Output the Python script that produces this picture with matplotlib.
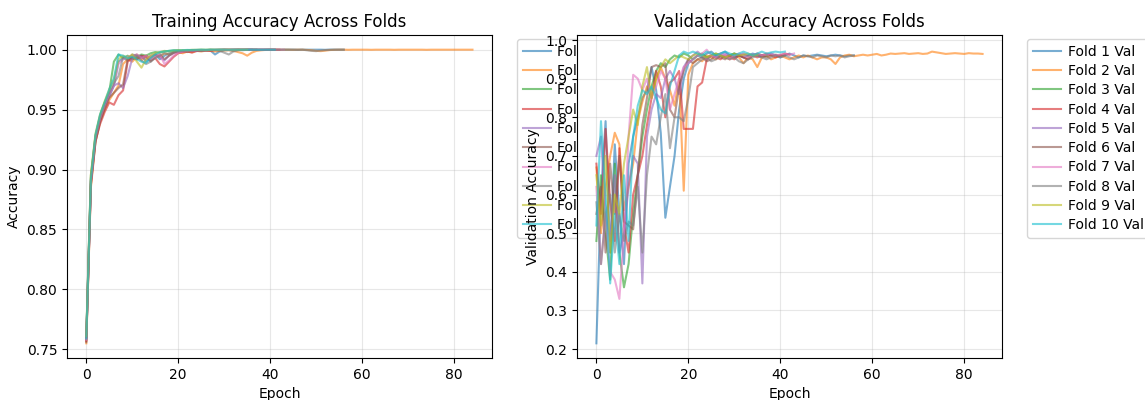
import numpy as np
import matplotlib
matplotlib.use("Agg")
import matplotlib.pyplot as plt

# Per-fold training accuracy by epoch
train_fold1 = [0.7580, 0.8900, 0.9260, 0.9420, 0.9530, 0.9620, 0.9700, 0.9900, 0.9930, 0.9910,
               0.9940, 0.9920, 0.9950, 0.9900, 0.9930, 0.9960, 0.9920, 0.9950, 0.9970, 0.9980,
               0.9985, 0.9990, 0.9980, 0.9992, 0.9988, 0.9995, 0.9990, 0.9993, 0.9960, 0.9985,
               0.9995, 0.9997, 0.9990, 0.9998, 0.9996, 0.9999, 0.9998, 0.9999, 1.0000, 0.9999,
               1.0000, 1.0000, 0.9999, 1.0000, 1.0000, 1.0000, 0.9999, 1.0000, 1.0000, 1.0000,
               1.0000, 1.0000, 0.9999, 1.0000, 1.0000, 1.0000, 1.0000]
train_fold2 = [0.7550, 0.8850, 0.9230, 0.9400, 0.9500, 0.9580, 0.9640, 0.9700, 0.9880, 0.9920,
               0.9900, 0.9940, 0.9910, 0.9950, 0.9930, 0.9960, 0.9940, 0.9970, 0.9960, 0.9975,
               0.9980, 0.9970, 0.9985, 0.9980, 0.9990, 0.9985, 0.9992, 0.9990, 0.9985, 0.9990,
               0.9993, 0.9995, 0.9990, 0.9980, 0.9970, 0.9950, 0.9975, 0.9990, 0.9995, 0.9998,
               0.9999, 1.0000, 0.9999, 1.0000, 1.0000, 0.9999, 1.0000, 1.0000, 0.9998, 0.9995,
               0.9990, 0.9988, 0.9992, 0.9997, 0.9999, 1.0000, 1.0000, 0.9999, 1.0000, 1.0000,
               1.0000, 1.0000, 0.9999, 1.0000, 1.0000, 1.0000, 1.0000, 0.9999, 1.0000, 1.0000,
               1.0000, 1.0000, 1.0000, 1.0000, 0.9999, 1.0000, 1.0000, 1.0000, 1.0000, 1.0000,
               1.0000, 1.0000, 1.0000, 1.0000, 1.0000]
train_fold3 = [0.7600, 0.8950, 0.9280, 0.9450, 0.9560, 0.9650, 0.9900, 0.9960, 0.9930, 0.9950,
               0.9920, 0.9940, 0.9960, 0.9950, 0.9970, 0.9980, 0.9975, 0.9985, 0.9990, 0.9993,
               0.9995, 0.9992, 0.9996, 0.9998, 0.9997, 0.9999, 0.9998, 1.0000, 0.9999, 1.0000,
               1.0000, 0.9999, 1.0000, 1.0000, 1.0000, 1.0000, 1.0000, 1.0000]
train_fold4 = [0.7570, 0.8880, 0.9240, 0.9380, 0.9480, 0.9560, 0.9540, 0.9620, 0.9660, 0.9900,
               0.9930, 0.9920, 0.9950, 0.9940, 0.9910, 0.9930, 0.9880, 0.9860, 0.9900, 0.9940,
               0.9970, 0.9980, 0.9985, 0.9975, 0.9990, 0.9992, 0.9995, 0.9990, 0.9997, 0.9996,
               0.9998, 0.9999, 0.9998, 1.0000, 0.9999, 1.0000, 1.0000, 1.0000, 0.9999, 1.0000,
               1.0000, 1.0000, 1.0000]
train_fold5 = [0.7590, 0.8910, 0.9250, 0.9420, 0.9530, 0.9610, 0.9700, 0.9720, 0.9680, 0.9780,
               0.9930, 0.9950, 0.9940, 0.9920, 0.9950, 0.9960, 0.9940, 0.9910, 0.9950, 0.9970,
               0.9980, 0.9985, 0.9990, 0.9988, 0.9993, 0.9995, 0.9997, 0.9996, 0.9998, 0.9999,
               1.0000, 0.9999, 1.0000, 1.0000, 1.0000, 1.0000, 1.0000]
train_fold6 = [0.7560, 0.8870, 0.9230, 0.9400, 0.9510, 0.9600, 0.9640, 0.9680, 0.9710, 0.9920,
               0.9940, 0.9960, 0.9930, 0.9950, 0.9900, 0.9940, 0.9960, 0.9920, 0.9950, 0.9975,
               0.9985, 0.9990, 0.9988, 0.9993, 0.9995, 0.9992, 0.9996, 0.9998, 0.9997, 0.9999,
               1.0000, 0.9999, 1.0000, 1.0000, 1.0000, 0.9999, 1.0000, 1.0000, 1.0000, 1.0000,
               1.0000, 1.0000]
train_fold7 = [0.7580, 0.8900, 0.9270, 0.9430, 0.9540, 0.9630, 0.9700, 0.9880, 0.9920, 0.9940,
               0.9950, 0.9960, 0.9930, 0.9950, 0.9920, 0.9940, 0.9960, 0.9880, 0.9910, 0.9950,
               0.9975, 0.9985, 0.9990, 0.9993, 0.9995, 0.9997, 0.9996, 0.9998, 0.9999, 0.9998,
               1.0000, 0.9999, 1.0000, 1.0000, 1.0000, 1.0000, 0.9999, 1.0000, 1.0000, 1.0000,
               1.0000, 1.0000, 1.0000, 1.0000]
train_fold8 = [0.7600, 0.8930, 0.9280, 0.9440, 0.9550, 0.9640, 0.9720, 0.9780, 0.9940, 0.9920,
               0.9960, 0.9950, 0.9910, 0.9880, 0.9900, 0.9930, 0.9950, 0.9970, 0.9960, 0.9980,
               0.9985, 0.9990, 0.9988, 0.9993, 0.9995, 0.9990, 0.9996, 0.9998, 0.9997, 0.9990,
               0.9975, 0.9960, 0.9985, 0.9995, 0.9998, 0.9999, 1.0000, 0.9999, 1.0000, 1.0000,
               1.0000, 0.9999, 1.0000, 1.0000, 1.0000, 1.0000, 0.9999, 1.0000, 0.9995, 0.9990,
               0.9988, 0.9993, 0.9997, 0.9999, 1.0000, 1.0000, 1.0000]
train_fold9 = [0.7610, 0.8960, 0.9300, 0.9460, 0.9570, 0.9670, 0.9750, 0.9920, 0.9950, 0.9930,
               0.9960, 0.9900, 0.9850, 0.9920, 0.9950, 0.9970, 0.9980, 0.9990, 0.9985, 0.9993,
               0.9995, 0.9997, 0.9996, 0.9998, 0.9999, 1.0000, 0.9999, 1.0000, 1.0000, 1.0000,
               1.0000, 1.0000, 0.9999, 1.0000, 1.0000, 1.0000]
train_fold10 = [0.7590, 0.8920, 0.9290, 0.9460, 0.9560, 0.9670, 0.9760, 0.9960, 0.9950, 0.9930,
                0.9940, 0.9920, 0.9900, 0.9890, 0.9930, 0.9960, 0.9980, 0.9985, 0.9990, 0.9995,
                0.9993, 0.9996, 0.9998, 0.9997, 0.9999, 1.0000, 0.9999, 1.0000, 1.0000, 1.0000,
                1.0000, 0.9999, 1.0000, 1.0000, 1.0000, 1.0000, 1.0000, 1.0000, 0.9999, 1.0000,
                1.0000, 1.0000]

# Per-fold validation accuracy by epoch
val_fold1 = [0.2150, 0.6000, 0.7900, 0.4500, 0.7300, 0.5500, 0.4200, 0.6800, 0.7500, 0.8000,
             0.8500, 0.8700, 0.9300, 0.8700, 0.7600, 0.5400, 0.6200, 0.7000, 0.8200, 0.9000,
             0.9400, 0.9500, 0.9600, 0.9550, 0.9650, 0.9700, 0.9600, 0.9650, 0.9700, 0.9600,
             0.9650, 0.9600, 0.9550, 0.9600, 0.9650, 0.9600, 0.9550, 0.9600, 0.9650, 0.9600,
             0.9550, 0.9600, 0.9650, 0.9600, 0.9550, 0.9600, 0.9580, 0.9600, 0.9620, 0.9600,
             0.9580, 0.9600, 0.9620, 0.9600, 0.9580, 0.9600, 0.9600]
val_fold2 = [0.6700, 0.5000, 0.6200, 0.7000, 0.7600, 0.7300, 0.5600, 0.6200, 0.6800, 0.7900,
             0.8400, 0.8800, 0.8500, 0.9000, 0.9300, 0.9000, 0.8700, 0.8300, 0.9000, 0.6100,
             0.9100, 0.9400, 0.9500, 0.9450, 0.9600, 0.9550, 0.9500, 0.9600, 0.9550, 0.9500,
             0.9600, 0.9550, 0.9400, 0.9550, 0.9500, 0.9300, 0.9550, 0.9600, 0.9500, 0.9550,
             0.9600, 0.9550, 0.9500, 0.9550, 0.9600, 0.9550, 0.9600, 0.9550, 0.9500, 0.9550,
             0.9550, 0.9500, 0.9380, 0.9550, 0.9600, 0.9620, 0.9580, 0.9600, 0.9620, 0.9600,
             0.9620, 0.9640, 0.9600, 0.9620, 0.9650, 0.9640, 0.9650, 0.9660, 0.9640, 0.9650,
             0.9660, 0.9640, 0.9650, 0.9700, 0.9680, 0.9660, 0.9640, 0.9650, 0.9660, 0.9650,
             0.9640, 0.9660, 0.9650, 0.9650, 0.9640]
val_fold3 = [0.4800, 0.6500, 0.5000, 0.3800, 0.6800, 0.4500, 0.3600, 0.4200, 0.5500, 0.6500,
             0.7500, 0.8200, 0.8800, 0.9200, 0.9400, 0.9300, 0.9500, 0.9600, 0.9550, 0.9650,
             0.9600, 0.9500, 0.9600, 0.9650, 0.9550, 0.9600, 0.9650, 0.9600, 0.9550, 0.9600,
             0.9650, 0.9600, 0.9620, 0.9580, 0.9600, 0.9620, 0.9600, 0.9600]
val_fold4 = [0.6800, 0.5500, 0.7700, 0.5800, 0.4800, 0.7200, 0.5200, 0.4500, 0.6000, 0.6500,
             0.7000, 0.7800, 0.8500, 0.9200, 0.8800, 0.8000, 0.8900, 0.9000, 0.9200, 0.7700,
             0.7700, 0.7700, 0.8800, 0.8900, 0.9500, 0.9600, 0.9550, 0.9500, 0.9600, 0.9550,
             0.9500, 0.9600, 0.9550, 0.9500, 0.9600, 0.9550, 0.9600, 0.9650, 0.9600, 0.9550,
             0.9600, 0.9650, 0.9620]
val_fold5 = [0.7000, 0.7500, 0.5500, 0.4800, 0.6500, 0.4500, 0.5000, 0.6200, 0.7000, 0.6800,
             0.3700, 0.7500, 0.8200, 0.8600, 0.8500, 0.9000, 0.9200, 0.9000, 0.8600, 0.9300,
             0.9500, 0.9600, 0.9700, 0.9600, 0.9500, 0.9600, 0.9550, 0.9600, 0.9650, 0.9600,
             0.9550, 0.9600, 0.9650, 0.9600, 0.9620, 0.9600, 0.9610]
val_fold6 = [0.5500, 0.6200, 0.4500, 0.6800, 0.5500, 0.7000, 0.5300, 0.5200, 0.5100, 0.6500,
             0.7800, 0.8500, 0.9300, 0.9350, 0.9300, 0.9400, 0.8200, 0.8000, 0.8800, 0.9200,
             0.9500, 0.9400, 0.9500, 0.9550, 0.9450, 0.9500, 0.9600, 0.9550, 0.9500, 0.9600,
             0.9550, 0.9600, 0.9550, 0.9500, 0.9600, 0.9650, 0.9600, 0.9550, 0.9600, 0.9620,
             0.9600, 0.9600]
val_fold7 = [0.6200, 0.4200, 0.5500, 0.4000, 0.3800, 0.3300, 0.5000, 0.7500, 0.9100, 0.9000,
             0.8700, 0.9000, 0.8500, 0.8800, 0.9200, 0.9000, 0.8200, 0.8600, 0.9000, 0.9300,
             0.9400, 0.9500, 0.9600, 0.9650, 0.9750, 0.9600, 0.9550, 0.9650, 0.9600, 0.9500,
             0.9600, 0.9650, 0.9600, 0.9550, 0.9600, 0.9650, 0.9600, 0.9620, 0.9650, 0.9600,
             0.9620, 0.9650, 0.9620, 0.9650]
val_fold8 = [0.5800, 0.4200, 0.5500, 0.6000, 0.4500, 0.5500, 0.4800, 0.5300, 0.5200, 0.6200,
             0.4500, 0.6500, 0.7500, 0.7300, 0.8000, 0.8600, 0.7200, 0.8000, 0.8000, 0.7900,
             0.8500, 0.9300, 0.9400, 0.9500, 0.9550, 0.9450, 0.9500, 0.9600, 0.9550, 0.9500,
             0.9550, 0.9450, 0.9400, 0.9500, 0.9550, 0.9600, 0.9550, 0.9500, 0.9550, 0.9600,
             0.9550, 0.9600, 0.9550, 0.9500, 0.9550, 0.9600, 0.9580, 0.9550, 0.9600, 0.9580,
             0.9550, 0.9600, 0.9580, 0.9600, 0.9550, 0.9580, 0.9600]
val_fold9 = [0.6500, 0.5200, 0.7000, 0.4500, 0.6000, 0.5500, 0.6800, 0.7500, 0.8200, 0.7800,
             0.8800, 0.9300, 0.8500, 0.9000, 0.9300, 0.9500, 0.9400, 0.9500, 0.9600, 0.9550,
             0.9500, 0.9600, 0.9650, 0.9600, 0.9550, 0.9600, 0.9650, 0.9600, 0.9550, 0.9600,
             0.9650, 0.9600, 0.9620, 0.9650, 0.9600, 0.9620]
val_fold10 = [0.5200, 0.7900, 0.6000, 0.3700, 0.5500, 0.4200, 0.6500, 0.4800, 0.7500, 0.8300,
              0.8700, 0.8600, 0.8800, 0.8500, 0.8200, 0.8100, 0.8800, 0.9200, 0.9600, 0.9700,
              0.9650, 0.9700, 0.9650, 0.9600, 0.9700, 0.9650, 0.9600, 0.9650, 0.9700, 0.9650,
              0.9600, 0.9650, 0.9700, 0.9650, 0.9600, 0.9650, 0.9700, 0.9650, 0.9680, 0.9700,
              0.9680, 0.9700]

train_folds = [train_fold1, train_fold2, train_fold3, train_fold4, train_fold5,
               train_fold6, train_fold7, train_fold8, train_fold9, train_fold10]
val_folds = [val_fold1, val_fold2, val_fold3, val_fold4, val_fold5,
             val_fold6, val_fold7, val_fold8, val_fold9, val_fold10]

fig = plt.figure(figsize=(11.45, 4.0), dpi=100)
ax1 = fig.add_axes([0.0585, 0.105, 0.371, 0.8075])
ax2 = fig.add_axes([0.504, 0.105, 0.371, 0.8075])

legend_kw = dict(bbox_to_anchor=(1.05, 1), loc="upper left",
                 labelspacing=0.38, handletextpad=0.5, borderaxespad=0.3)

for i, acc in enumerate(train_folds):
    ax1.plot(np.arange(len(acc)), acc, alpha=0.6, label=f"Fold {i + 1} Train")
ax1.set_title("Training Accuracy Across Folds")
ax1.set_xlabel("Epoch")
ax1.set_ylabel("Accuracy")
ax1.legend(**legend_kw)
ax1.grid(True, alpha=0.3)

for i, acc in enumerate(val_folds):
    ax2.plot(np.arange(len(acc)), acc, alpha=0.6, label=f"Fold {i + 1} Val")
ax2.set_title("Validation Accuracy Across Folds")
ax2.set_xlabel("Epoch")
ax2.set_ylabel("Validation Accuracy")
ax2.legend(**legend_kw)
ax2.grid(True, alpha=0.3)

fig.savefig("out.png", dpi=100)
